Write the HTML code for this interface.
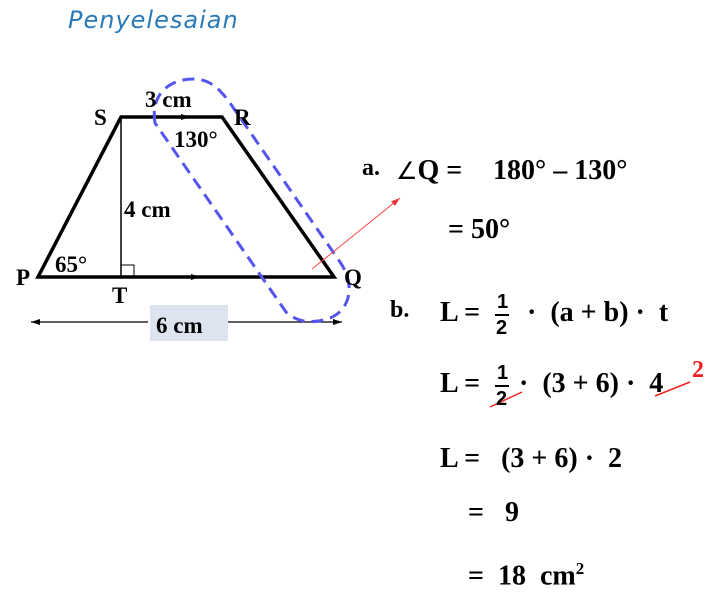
<!DOCTYPE html>
<html><head><style>
body{margin:0;width:721px;height:609px;background:#fff;overflow:hidden;position:relative;font-family:"Liberation Serif",serif;font-weight:bold;}
.t{position:absolute;font-size:28px;white-space:nowrap;line-height:1;}
.s{font-size:23px}
.f{position:absolute;font-size:20px;font-family:'Liberation Sans',sans-serif;line-height:1}
</style></head><body>
<div style="position:absolute;left:68px;top:6px;font-family:'DejaVu Sans',sans-serif;font-weight:normal;font-size:24px;color:#2a7ab8;font-style:italic;letter-spacing:1px">Penyelesaian</div>
<svg width="721" height="609" style="position:absolute;left:0;top:0">
<defs><marker id="a" markerUnits="userSpaceOnUse" markerWidth="10" markerHeight="10" refX="9" refY="5" orient="auto"><path d="M0,2 L9,5 L0,8z" fill="#000"/></marker>
<marker id="r" markerUnits="userSpaceOnUse" markerWidth="10" markerHeight="10" refX="9" refY="5" orient="auto"><path d="M0,2 L9,5 L0,8z" fill="#e33"/></marker></defs>
<rect x="150" y="305" width="78" height="36" fill="#dde3ef"/>
<polygon points="38,277 121,117 222,117 334,277" fill="none" stroke="#000" stroke-width="3.5"/>
<line x1="121" y1="117" x2="121" y2="277" stroke="#000" stroke-width="1.5"/>
<rect x="121" y="265" width="13" height="12" fill="none" stroke="#000" stroke-width="1"/>
<line x1="150" y1="117" x2="190" y2="117" stroke="#000" stroke-width="3" marker-end="url(#a)"/>
<line x1="150" y1="277" x2="200" y2="277" stroke="#000" stroke-width="3" marker-end="url(#a)"/>
<line x1="148" y1="322" x2="31" y2="322" stroke="#000" stroke-width="1.2" marker-end="url(#a)"/>
<line x1="228" y1="322" x2="342" y2="322" stroke="#000" stroke-width="1.2" marker-end="url(#a)"/>
<path d="M155,123 C150,92 172,78 196,79 C212,80 222,92 230,103 L340,262 C356,285 350,310 330,318 C314,324 298,323 286,312 Z" fill="none" stroke="#5555ee" stroke-width="3" stroke-dasharray="12,7"/>
<line x1="312" y1="269" x2="400" y2="198" stroke="#f44" stroke-width="1" marker-end="url(#r)"/>
<line x1="490" y1="407" x2="522" y2="392" stroke="#e22" stroke-width="1.5"/>
<line x1="655" y1="396" x2="690" y2="382" stroke="#e22" stroke-width="1.5"/>
</svg>
<div class="t s" style="left:145px;top:88px">3 cm</div>
<div class="t s" style="left:94px;top:106px">S</div>
<div class="t s" style="left:234px;top:106px">R</div>
<div class="t s" style="left:174px;top:128px">130°</div>
<div class="t s" style="left:124px;top:198px">4 cm</div>
<div class="t s" style="left:55px;top:253px">65°</div>
<div class="t s" style="left:16px;top:266px">P</div>
<div class="t s" style="left:112px;top:284px">T</div>
<div class="t s" style="left:344px;top:266px">Q</div>
<div class="t s" style="left:156px;top:314px">6 cm</div>
<div class="t" style="left:362px;top:156px;font-size:24px">a.</div>
<div class="t" style="left:396px;top:157px"><span style="font-weight:normal;font-size:24px">∠</span>Q =</div>
<div class="t" style="left:493px;top:157px">180° – 130°</div>
<div class="t" style="left:448px;top:216px">= 50°</div>
<div class="t" style="left:390px;top:298px;font-size:24px">b.</div>
<div class="t" style="left:440px;top:299px">L = </div>
<div class="f" style="left:497px;top:292px">1</div>
<div style="position:absolute;left:495px;top:314px;width:14px;height:2px;background:#000"></div>
<div class="f" style="left:496px;top:318px">2</div>
<div class="t" style="left:527px;top:299px">·&nbsp; (a + b) ·&nbsp; t</div>
<div class="t" style="left:440px;top:370px">L = </div>
<div class="f" style="left:497px;top:363px">1</div>
<div style="position:absolute;left:495px;top:385px;width:14px;height:2px;background:#000"></div>
<div class="f" style="left:496px;top:389px">2</div>
<div class="t" style="left:519px;top:370px">·&nbsp; (3 + 6) ·&nbsp; 4</div>
<div class="t" style="left:692px;top:358px;color:#e22;font-size:24px">2</div>
<div class="t" style="left:440px;top:445px">L = &nbsp; (3 + 6) ·&nbsp; 2</div>
<div class="t" style="left:468px;top:499px">= &nbsp; 9</div>
<div class="t" style="left:468px;top:560px">= &nbsp;18 &nbsp;cm<sup style="font-size:17px">2</sup></div>
</body></html>
